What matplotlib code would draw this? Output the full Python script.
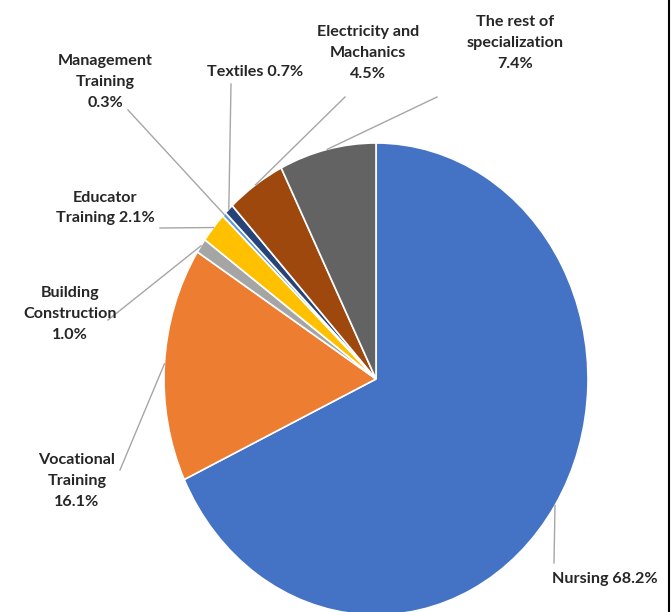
import numpy as np
import matplotlib
matplotlib.use("Agg")
import matplotlib.pyplot as plt
from matplotlib.lines import Line2D

# ── data ─────────────────────────────────────
labels = ["Nursing", "Vocational\nTraining", "Building\nConstruction",
          "Educator\nTraining", "Management\nTraining", "Textiles",
          "Electricity and\nMachanics", "The rest of\nspecialization"]
shares = [68.2, 16.1, 1.0, 2.1, 0.3, 0.7, 4.5, 7.4]
label_text = ["Nursing 68.2%", "Vocational\nTraining\n16.1%", "Building\nConstruction\n1.0%",
              "Educator\nTraining 2.1%", "Management\nTraining\n0.3%", "Textiles 0.7%",
              "Electricity and\nMachanics\n4.5%", "The rest of\nspecialization\n7.4%"]
colors = ["#4472C4", "#ED7D31", "#A5A5A5", "#FFC000", "#5B9BD5",
          "#264478", "#9E480E", "#636363"]

# ── layout (pixels in a 671x612 image) ───────
W, H = 671, 612
CX, CY, RX, RY = 376, 379, 212, 236
label_px = [(605, 579), (77, 481), (70, 314), (105, 208), (105, 82),
            (255, 72), (368, 53), (515, 43)]
leader_px = [(554, 563), (120, 470), (108, 320), (160, 228), (128, 110),
             (231, 84), (345, 97), (437, 97)]

def px2d(px, py):
    return (px - CX) / RX, (CY - py) / RY

fig = plt.figure(figsize=(W / 100, H / 100), dpi=100)
ax = fig.add_axes([0, 0, 1, 1])
wedges, _ = ax.pie(shares, colors=colors, startangle=90, counterclock=False,
                   radius=1, wedgeprops=dict(edgecolor="white", linewidth=1.2))
ax.set_aspect("auto")
ax.set_xlim(-CX / RX, (W - CX) / RX)
ax.set_ylim((CY - H) / RY, CY / RY)
ax.axis("off")

font = dict(family=["Lato", "DejaVu Sans"], fontsize=11.6,
            fontweight="bold", color="#262626", ha="center", va="center",
            linespacing=1.62)

total = sum(shares)
cum = 0.0
for i, v in enumerate(shares):
    mid = np.deg2rad((cum + v / 2) / total * 360)
    cum += v
    ex, ey = np.sin(mid), np.cos(mid)
    sx, sy = px2d(*leader_px[i])
    ax.add_line(Line2D([sx, ex], [sy, ey], color="#A6A6A6", lw=1))
    tx, ty = px2d(*label_px[i])
    ax.text(tx, ty, label_text[i], **font)

fig.add_artist(Line2D([0.997, 0.997], [0, 1], color="black", lw=1.5,
                      transform=fig.transFigure))
fig.savefig("out.png", dpi=100, facecolor="white")
